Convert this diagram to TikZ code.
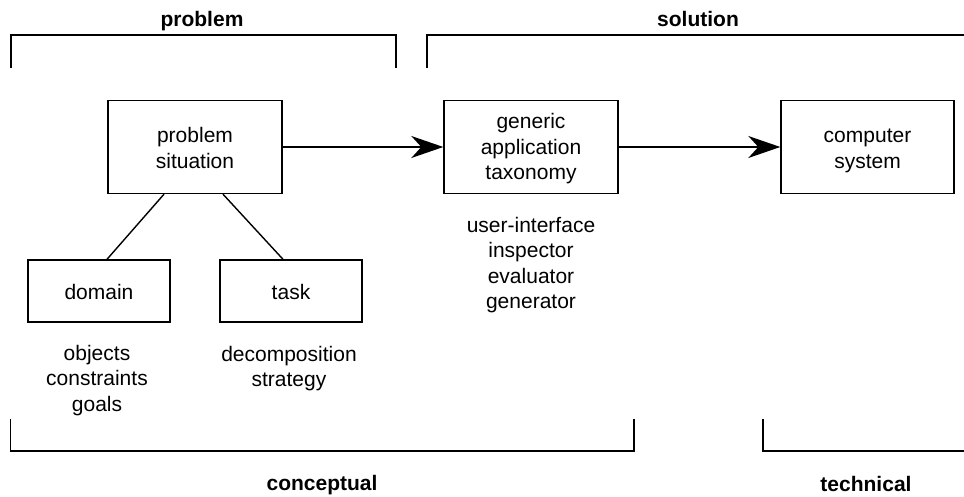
\documentclass[tikz,border=0pt]{standalone}
\usepackage{fontspec}
\setmainfont{Liberation Sans}
\usetikzlibrary{arrows.meta,calc}
\newcommand{\lift}[1]{\rule{0pt}{#1}}
\begin{document}
\begin{tikzpicture}[x=1pt,y=-1pt,
  txt/.style={font=\fontsize{21}{25.4}\selectfont, align=center, inner sep=0pt},
  bold/.style={font=\fontsize{21}{25.4}\selectfont\bfseries, inner sep=0pt, anchor=base},
  box/.style={txt, draw, line width=1.4pt, minimum width=174pt, minimum height=93pt},
  smallbox/.style={box, minimum width=142pt, minimum height=62pt,
    execute at begin node={\rule{0pt}{20pt}\rule[-3pt]{0pt}{3pt}}},
  note/.style={txt, anchor=north},
  bracket/.style={line width=1.4pt},
  link/.style={line width=1.4pt},
  arr/.style={line width=1.4pt, -{Stealth[length=32pt,width=22pt,inset=10pt]}}]
\useasboundingbox (0,0) rectangle (964,497);

% brackets
\draw[bracket] (11,68) -- (11,35) -- (396,35) -- (396,68);
\draw[bracket] (427,68) -- (427,35) -- (965,35);
\draw[bracket] (10.5,419) -- (10.5,451) -- (634,451) -- (634,419);
\draw[bracket] (763,419) -- (763,451) -- (965,451);

% bracket labels
\node[bold] (lproblem) at (202,27) {problem};
\node[bold] (lsolution) at (698,27) {solution};
\node[bold] (lconceptual) at (322,490) {conceptual};
\node[bold] (ltechnical) at (866,491) {technical};

% boxes
\node[box] (ps) at (195,147) {\lift{17.5pt}problem\\situation};
\node[box] (gat) at (531,147) {\lift{19pt}generic\\application\\taxonomy};
\node[box, minimum width=173pt] (cs) at (867.5,147) {\lift{21.5pt}computer\\system};
\node[smallbox] (dom) at (99,291) {domain};
\node[smallbox] (task) at (291,291) {task};

% notes
\node[note] (ndom) at (97,345) {objects\\constraints\\goals};
\node[note] (ntask) at (289,346) {decomposition\\strategy};
\node[note] (ngat) at (531,217) {user-interface\\inspector\\evaluator\\generator};

% connectors
\draw[arr] (ps.east) -- (gat.west);
\draw[arr] (gat.east) -- (cs.west);
\draw[link] ($(ps.south)+(-31,0)$) -- ($(dom.north)+(8,0)$);
\draw[link] ($(ps.south)+(28,0)$) -- ($(task.north)+(-8,0)$);
\end{tikzpicture}
\end{document}
